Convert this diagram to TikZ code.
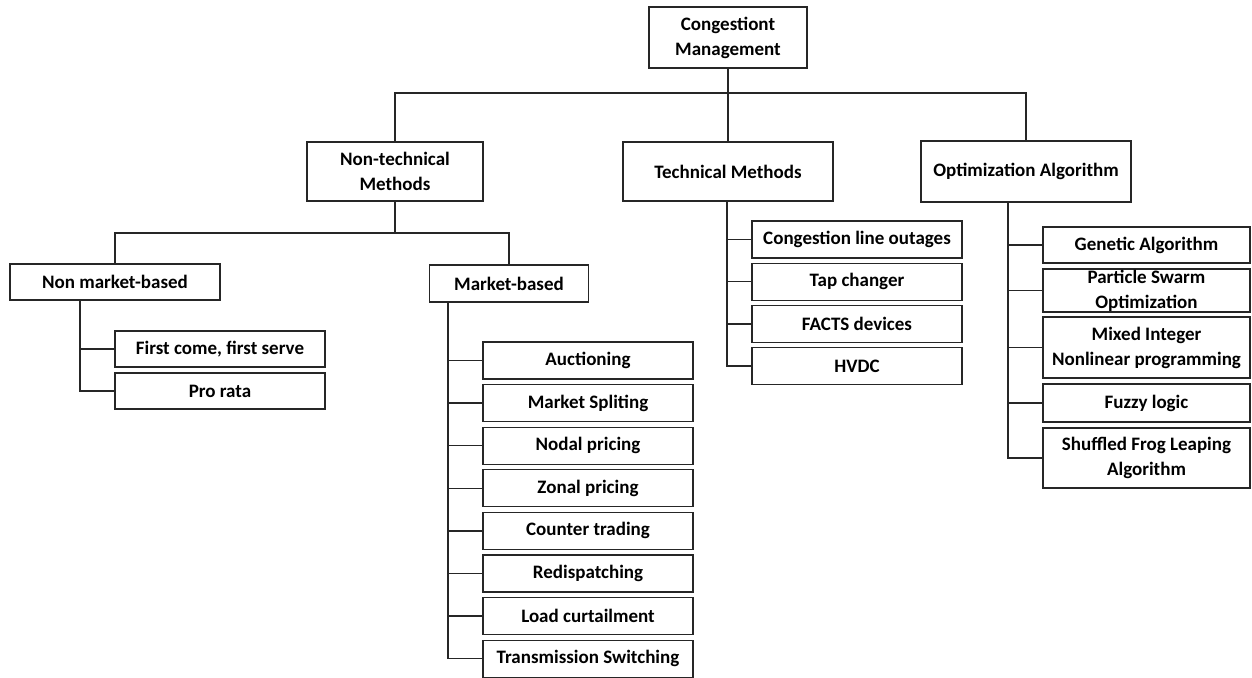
\documentclass[tikz,border=0pt]{standalone}
\usepackage{fontspec}
\setmainfont{Carlito}
\begin{document}
\begin{tikzpicture}[x=1pt,y=-1pt,
  box/.style={draw=black!85, line width=1.3pt, inner sep=0pt, align=center,
    font=\fontsize{19}{25}\selectfont\bfseries, minimum width=210pt, minimum height=37pt},
  link/.style={draw=black!85, line width=1.3pt}]
\useasboundingbox (0,0) rectangle (1252,677);

% top level
\node[box, minimum width=158pt, minimum height=61pt] (root) at (728,37.5) {Congestiont\\Management};
\node[box, minimum width=176pt, minimum height=59pt] (nontech) at (395,171.5) {Non-technical\\Methods};
\node[box, minimum height=59pt] (tech) at (728,171.5) {Technical Methods};
\node[box, minimum height=61pt] (opt) at (1026,171.5) {Optimization Algorithm};

\coordinate (bus) at (0,93);
\draw[link] (nontech.north) |- (root.south |- bus) -| (opt.north);
\draw[link] (root.south) -- (tech.north);

% non-technical methods
\node[box, minimum height=36pt] (nonmarket) at (115,282) {Non market-based};
\node[box, minimum width=159pt] (market) at (509,283.5) {Market-based};
\coordinate (bus2) at (0,233);
\draw[link] (nontech.south) -- (nontech.south |- bus2);
\draw[link] (nonmarket.north) |- (nontech.south |- bus2) -| (market.north);

\node[box, minimum height=36pt] (fcfs) at (220,349) {First come, first serve};
\node[box, minimum height=36pt] (prorata) at (220,391) {Pro rata};
\coordinate (t1) at (80,0);
\draw[link] (nonmarket.south -| t1) |- (prorata.west);
\draw[link] (t1 |- fcfs.west) -- (fcfs.west);

% market-based
\coordinate (t2) at (448,0);
\foreach \name/\txt [count=\i from 0] in {auc/Auctioning, split/Market Spliting,
    nodal/Nodal pricing, zonal/Zonal pricing, counter/Counter trading,
    redisp/Redispatching, load/Load curtailment, switch/Transmission Switching}{
  \node[box] (\name) at (588,360.5+42.6*\i) {\txt};
  \draw[link] (t2 |- \name.west) -- (\name.west);
}
\draw[link] (market.south -| t2) |- (switch.west);

% technical methods
\coordinate (t3) at (727,0);
\foreach \name/\txt [count=\i from 0] in {outage/Congestion line outages, tap/Tap changer,
    facts/FACTS devices, hvdc/HVDC}{
  \node[box] (\name) at (857,239.5+42.2*\i) {\txt};
  \draw[link] (t3 |- \name.west) -- (\name.west);
}
\draw[link] (tech.south -| t3) |- (hvdc.west);

% optimization algorithms
\coordinate (t4) at (1008,0);
\node[box, minimum width=207pt, minimum height=36pt] (ga) at (1146.5,245) {Genetic Algorithm};
\node[box, minimum width=207pt, minimum height=43pt] (pso) at (1146.5,290.5) {Particle Swarm\\Optimization};
\node[box, minimum width=207pt, minimum height=61pt] (minlp) at (1146.5,347.5) {Mixed Integer\\Nonlinear programming};
\node[box, minimum width=207pt, minimum height=38pt] (fuzzy) at (1146.5,403) {Fuzzy logic};
\node[box, minimum width=207pt, minimum height=60pt] (sfla) at (1146.5,458) {Shuffled Frog Leaping\\Algorithm};
\foreach \name in {ga,pso,minlp,fuzzy}{
  \draw[link] (t4 |- \name.west) -- (\name.west);
}
\draw[link] (opt.south -| t4) |- (sfla.west);
\end{tikzpicture}
\end{document}
